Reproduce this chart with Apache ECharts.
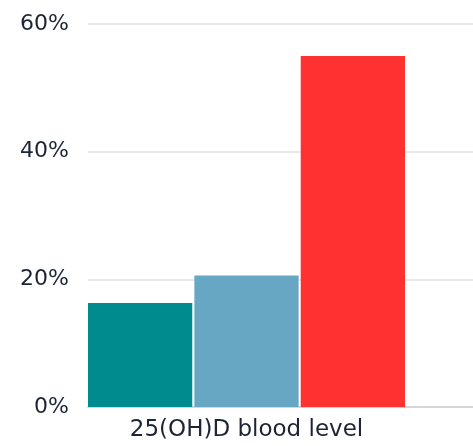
<!DOCTYPE html>
<html>
<head>
<meta charset="utf-8">
<script src="https://cdn.jsdelivr.net/npm/echarts@6/dist/echarts.min.js"></script>
<style>
  html, body { margin: 0; padding: 0; background: #fff; }
  #chart { width: 473px; height: 446px; }
</style>
</head>
<body>
<div id="chart"></div>
<script>
// Share of people in each group, by 25(OH)D blood level category
const categories = ['25(OH)D blood level'];
const groupA = [16.3];
const groupB = [20.6];
const groupC = [55.0];
const yTicks = [0, 20, 40, 60];

const textColor = '#1d2434';
const fontFamily = '"DejaVu Sans", "Noto Sans", sans-serif';
const yMin = yTicks[0];
const yMax = yTicks[yTicks.length - 1];

const chart = echarts.init(document.getElementById('chart'), null, { renderer: 'canvas' });

function bar(name, data, color) {
  return {
    name: name,
    type: 'bar',
    xAxisIndex: 1,
    yAxisIndex: 1,
    data: data,
    barGap: '2%',
    barCategoryGap: 0,
    itemStyle: { color: color },
    z: 3
  };
}

chart.setOption({
  animation: false,
  grid: [
    // full-width background grid: tick labels, gridlines and the baseline
    { left: 88, right: 0, top: 24, height: 383 },
    // bar area
    { left: 88, width: 317, top: 24, height: 383 }
  ],
  xAxis: [
    {
      gridIndex: 0,
      type: 'value',
      min: 0,
      max: 1,
      axisLine: { show: true, onZero: false, lineStyle: { color: '#d3d7dc', width: 2 } },
      axisTick: { show: false },
      axisLabel: { show: false },
      splitLine: { show: false }
    },
    {
      gridIndex: 1,
      type: 'category',
      data: categories,
      axisTick: { show: false },
      axisLine: { show: false },
      axisLabel: { color: textColor, fontSize: 23, fontFamily: fontFamily, margin: 12 },
      splitLine: { show: false }
    }
  ],
  yAxis: [
    {
      gridIndex: 0,
      type: 'value',
      min: yMin,
      max: yMax,
      interval: 20,
      axisLine: { show: false },
      axisTick: { show: false },
      axisLabel: { color: textColor, fontSize: 22, fontFamily: fontFamily, margin: 19, formatter: '{value}%' },
      splitLine: { lineStyle: { color: '#dfe3e7', width: 1.5 } }
    },
    {
      gridIndex: 1,
      type: 'value',
      min: yMin,
      max: yMax,
      interval: 20,
      show: false
    }
  ],
  series: [
    bar('A', groupA, '#008b8f'),
    bar('B', groupB, '#67a7c3'),
    bar('C', groupC, '#ff3131')
  ]
});
</script>
</body>
</html>
